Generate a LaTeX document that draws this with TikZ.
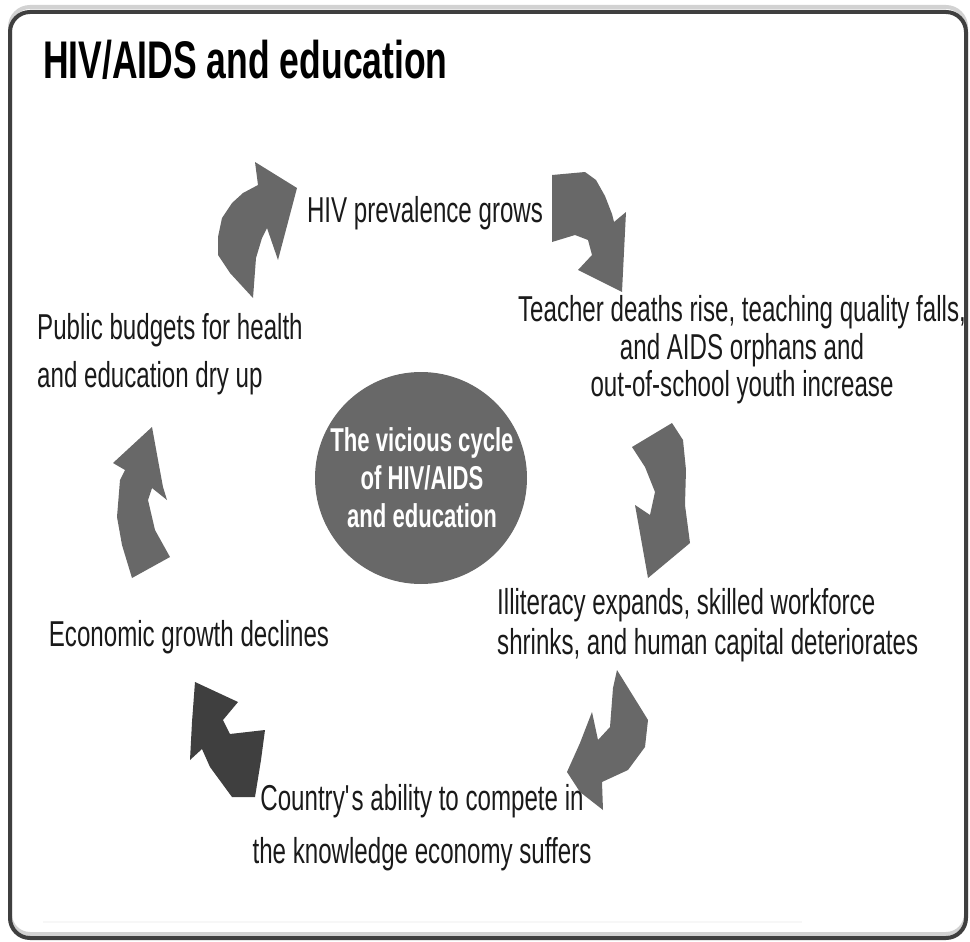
\documentclass[tikz,border=0pt]{standalone}
\usepackage{fontspec}
\setmainfont[FakeStretch=0.67]{Liberation Sans}
\usetikzlibrary{positioning}
\definecolor{arrgray}{HTML}{686868}
\definecolor{arrdark}{HTML}{3F3F3F}
\definecolor{txt}{HTML}{1A1A1A}

\begin{document}
\begin{tikzpicture}[x=1pt,y=-1pt,
    lbl/.style={inner sep=0pt,text=txt,font=\fontsize{36}{#1}\selectfont},
    lbl/.default=40,
    arr/.style={fill=arrgray},
    arrd/.style={fill=arrdark}]
        \useasboundingbox (0,0) rectangle (970,942);
        \draw[gray!35,line width=4,rounded corners=20] (10,7) rectangle (966,934);
        \draw[arrdark,line width=4,rounded corners=20] (10,12) rectangle (966,938);
        \draw[gray!6,line width=2] (43,922) -- (802,922);
        \node(T) [inner sep=0pt,anchor=west,text=black,font=\fontsize{53}{60}\selectfont\bfseries] at (43,60) {HIV/AIDS and education};
        \node(C) [circle,fill=arrgray,minimum size=212pt,inner sep=0pt] at (421,478) {};
        \node(Ct) [inner sep=0pt,align=center,text=white,font=\fontsize{33}{38}\selectfont\bfseries] at (422,478) {The vicious cycle\\of HIV/AIDS\\and education};
        \node(P1) [lbl] at (425,213) {HIV prevalence grows};
        \node(P2) [lbl=37.5,align=center] at (742,350) {Teacher deaths rise, teaching quality falls,\\and AIDS orphans and\\out-of-school youth increase};
        \node(P3) [lbl=40,align=left,anchor=west] at (497,625) {Illiteracy expands, skilled workforce\\shrinks, and human capital deteriorates};
        \node(P4) [lbl=53,align=center] at (422,828) {Country\textquotesingle s ability to compete in\\the knowledge economy suffers};
        \node(P5) [lbl] at (189,637) {Economic growth declines};
        \node(P6) [lbl=48,align=left,anchor=west] at (37,354) {Public budgets for health\\and education dry up};
        \fill[arr] (253,298) -- (230,273) -- (218,255) -- (218,237) -- (222,218) -- (232,203) -- (243,193) -- (258,185) -- (255,162) -- (297,188) -- (278,260) -- (267,228) -- (262,238) -- (256,258) -- cycle;
        \fill[arr] (552,175) -- (585,172) -- (596,180) -- (605,196) -- (612,214) -- (614,222) -- (626,212) -- (622,292) -- (578,270) -- (592,255) -- (588,240) -- (575,235) -- (552,242) -- cycle;
        \fill[arr] (632,447) -- (672,423) -- (683,440) -- (686,470) -- (685,505) -- (690,543) -- (648,578) -- (635,505) -- (650,515) -- (655,492) -- (645,467) -- cycle;
        \fill[arr] (617,670) -- (640,707) -- (648,720) -- (645,747) -- (628,770) -- (602,782) -- (603,810) -- (580,792) -- (567,772) -- (580,743) -- (592,712) -- (598,740) -- (610,727) -- (613,688) -- cycle;
        \fill[arrd] (195,682) -- (238,702) -- (223,720) -- (230,734) -- (265,730) -- (261,760) -- (255,797) -- (232,797) -- (210,767) -- (202,749) -- (190,760) -- (192,722) -- cycle;
        \fill[arr] (152,427) -- (158,460) -- (163,487) -- (167,500) -- (152,488) -- (148,500) -- (155,530) -- (170,557) -- (132,578) -- (122,545) -- (117,517) -- (120,480) -- (125,470) -- (113,463) -- cycle;
    \end{tikzpicture}
\end{document}
